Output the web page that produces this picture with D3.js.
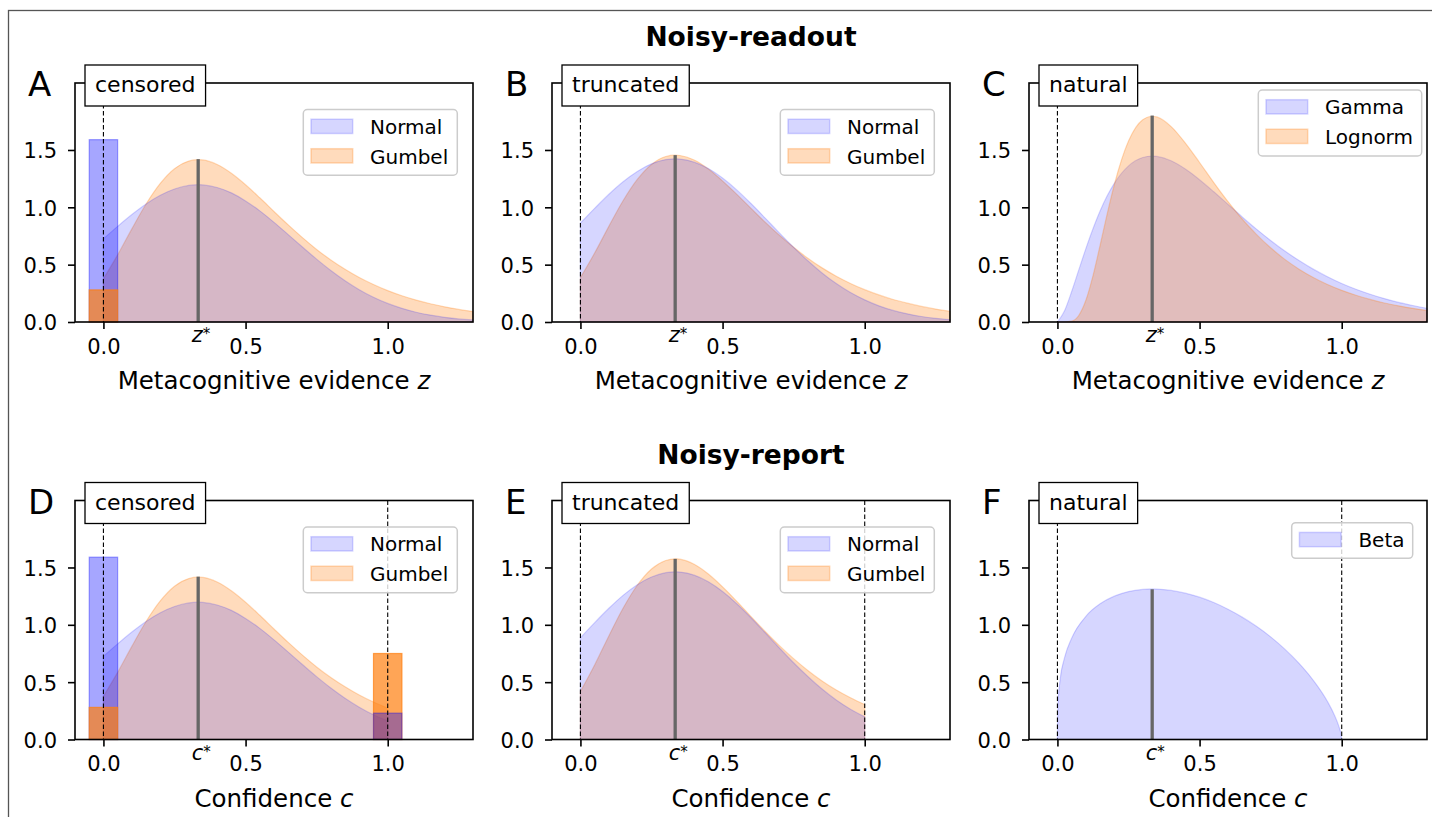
<!DOCTYPE html>
<html>
<head>
<meta charset="utf-8">
<script src="https://cdn.jsdelivr.net/npm/d3@7"></script>
<style>
  body { margin: 0; background: #fff; }
  svg { display: block; }
  text { font-family: 'DejaVu Sans', sans-serif; fill: #000; }
</style>
</head>
<body>
<script>
// ---- data ----
// shared evidence grid for the Normal / Gumbel panels
const zGrid = [0, 0.05, 0.1, 0.15, 0.2, 0.25, 0.3, 0.3333, 0.35, 0.4, 0.45, 0.5, 0.55, 0.6, 0.65,
  0.7, 0.75, 0.8, 0.85, 0.9, 0.95, 1.0, 1.05, 1.1, 1.15, 1.2, 1.25, 1.3];

// censored densities (A, D)
const normalCensored = [0.726, 0.834, 0.937, 1.029, 1.105, 1.160, 1.191, 1.197, 1.195, 1.173, 1.126, 1.056,
  0.969, 0.869, 0.762, 0.654, 0.548, 0.449, 0.360, 0.282, 0.216, 0.162, 0.119, 0.085, 0.060, 0.041, 0.027, 0.018];
const gumbelCensored = [0.377, 0.585, 0.812, 1.029, 1.209, 1.337, 1.403, 1.415, 1.413, 1.373, 1.297, 1.197,
  1.083, 0.964, 0.847, 0.736, 0.633, 0.541, 0.460, 0.388, 0.327, 0.274, 0.229, 0.191, 0.159, 0.132, 0.110, 0.091];

// truncated at 0 (B)
const normalTruncated = [0.863, 0.991, 1.114, 1.223, 1.313, 1.379, 1.416, 1.423, 1.421, 1.394, 1.338, 1.255,
  1.152, 1.033, 0.906, 0.777, 0.651, 0.534, 0.428, 0.335, 0.257, 0.193, 0.141, 0.101, 0.071, 0.048, 0.032, 0.021];
const gumbelTruncated = [0.387, 0.601, 0.834, 1.057, 1.243, 1.374, 1.443, 1.455, 1.452, 1.412, 1.334, 1.230,
  1.113, 0.991, 0.870, 0.756, 0.651, 0.556, 0.472, 0.399, 0.336, 0.282, 0.236, 0.196, 0.164, 0.136, 0.113, 0.094];

// truncated to [0, 1] (E)
const normalTruncated01 = [0.887, 1.019, 1.144, 1.257, 1.350, 1.417, 1.455, 1.462, 1.460, 1.433, 1.375, 1.290,
  1.184, 1.062, 0.931, 0.798, 0.669, 0.549, 0.440, 0.345, 0.264, 0.198];
const gumbelTruncated01 = [0.419, 0.650, 0.903, 1.144, 1.345, 1.487, 1.561, 1.575, 1.572, 1.528, 1.443, 1.331,
  1.205, 1.072, 0.942, 0.818, 0.705, 0.602, 0.511, 0.432, 0.364, 0.305];

// natural (C)
const naturalGrid = [0, 0.025, 0.05, 0.075, 0.1, 0.125, 0.15, 0.175, 0.2, 0.25, 0.3, 0.3333, 0.35, 0.4, 0.45,
  0.5, 0.55, 0.6, 0.65, 0.7, 0.75, 0.8, 0.85, 0.9, 0.95, 1.0, 1.05, 1.1, 1.15, 1.2, 1.25, 1.3];
const gammaDensity = [0, 0.098, 0.266, 0.454, 0.640, 0.813, 0.968, 1.100, 1.209, 1.361, 1.434, 1.447, 1.444,
  1.406, 1.334, 1.241, 1.136, 1.026, 0.916, 0.810, 0.711, 0.619, 0.536, 0.461, 0.395, 0.336, 0.286, 0.242,
  0.204, 0.171, 0.144, 0.120];
const lognormDensity = [0, 0.000, 0.007, 0.057, 0.189, 0.403, 0.667, 0.942, 1.197, 1.578, 1.764, 1.794, 1.788,
  1.704, 1.560, 1.391, 1.216, 1.050, 0.898, 0.764, 0.647, 0.546, 0.461, 0.388, 0.327, 0.276, 0.233, 0.197,
  0.166, 0.141, 0.119, 0.101];

// natural (F)
const betaGrid = [0, 0.002, 0.01, 0.025, 0.05, 0.1, 0.15, 0.2, 0.25, 0.3, 0.3333, 0.35, 0.4, 0.45, 0.5, 0.55,
  0.6, 0.65, 0.7, 0.75, 0.8, 0.85, 0.9, 0.95, 0.975, 0.99, 0.998, 1.0];
const betaDensity = [0, 0.312, 0.531, 0.713, 0.883, 1.074, 1.183, 1.250, 1.290, 1.309, 1.313, 1.312, 1.300,
  1.276, 1.241, 1.194, 1.136, 1.067, 0.987, 0.895, 0.788, 0.664, 0.516, 0.331, 0.210, 0.115, 0.039, 0];

// point masses of the censored panels, drawn as bars at 0 and 1
const massAt = [0, 1];
const normalMass = [1.59, 0.23];
const gumbelMass = [0.28, 0.75];

const starValue = 0.3333;                                 // z* / c*
const starHeights = [1.42, 1.455, 1.80, 1.42, 1.575, 1.31]; // A..F
const xTicks = [0, 0.5, 1.0];
const yTicks = [0, 0.5, 1.0, 1.5];

// ---- look ----
const fills = { blue: 'rgba(0,0,255,0.16)', orange: 'rgba(255,127,14,0.28)' };
const barFills = { blue: 'rgba(0,0,255,0.35)', orange: 'rgba(255,127,14,0.7)' };

const W = 398, H = 239;
const colLeft = [75, 552, 1029];
const rowTop = [83, 500.5];

const svg = d3.select('body').append('svg').attr('width', 1432).attr('height', 817);

// outer frame of the figure
svg.append('rect').attr('x', 8.5).attr('y', 10.5).attr('width', 1500).attr('height', 900)
  .attr('fill', 'none').attr('stroke', '#555').attr('stroke-width', 1.3);

const x = d3.scaleLinear().domain([-0.1, 1.3]).range([0, W]);
const y = d3.scaleLinear().domain([0, 2.084]).range([H, 0]);

const twoLegend = { dx: 228.3, dy: 26.5, w: 154, h: 65.7 };

const panels = [
  { letter: 'A', col: 0, row: 0, tag: 'censored', sym: 'z', xMax: 1.3, dashed: [0], bars: [0],
    series: [{ grid: zGrid, vals: gumbelCensored, color: 'orange' }, { grid: zGrid, vals: normalCensored, color: 'blue' }],
    legend: Object.assign({ items: [['Normal', 'blue'], ['Gumbel', 'orange']] }, twoLegend) },
  { letter: 'B', col: 1, row: 0, tag: 'truncated', sym: 'z', xMax: 1.3, dashed: [0], bars: [],
    series: [{ grid: zGrid, vals: gumbelTruncated, color: 'orange' }, { grid: zGrid, vals: normalTruncated, color: 'blue' }],
    legend: Object.assign({ items: [['Normal', 'blue'], ['Gumbel', 'orange']] }, twoLegend) },
  { letter: 'C', col: 2, row: 0, tag: 'natural', sym: 'z', xMax: 1.3, dashed: [0], bars: [],
    series: [{ grid: naturalGrid, vals: gammaDensity, color: 'blue' }, { grid: naturalGrid, vals: lognormDensity, color: 'orange' }],
    legend: { items: [['Gamma', 'blue'], ['Lognorm', 'orange']], dx: 229.3, dy: 7, w: 163.4, h: 66 } },
  { letter: 'D', col: 0, row: 1, tag: 'censored', sym: 'c', xMax: 1.0, dashed: [0, 1], bars: [0, 1],
    series: [{ grid: zGrid, vals: gumbelCensored, color: 'orange' }, { grid: zGrid, vals: normalCensored, color: 'blue' }],
    legend: Object.assign({ items: [['Normal', 'blue'], ['Gumbel', 'orange']] }, twoLegend) },
  { letter: 'E', col: 1, row: 1, tag: 'truncated', sym: 'c', xMax: 1.0, dashed: [0, 1], bars: [],
    series: [{ grid: zGrid, vals: gumbelTruncated01, color: 'orange' }, { grid: zGrid, vals: normalTruncated01, color: 'blue' }],
    legend: Object.assign({ items: [['Normal', 'blue'], ['Gumbel', 'orange']] }, twoLegend) },
  { letter: 'F', col: 2, row: 1, tag: 'natural', sym: 'c', xMax: 1.0, dashed: [0, 1], bars: [],
    series: [{ grid: betaGrid, vals: betaDensity, color: 'blue' }],
    legend: { items: [['Beta', 'blue']], dx: 262.7, dy: 22.2, w: 121, h: 35.6 } }
];

const area = d3.area()
  .x(d => x(d[0]))
  .y0(y(0))
  .y1(d => y(d[1]))
  .curve(d3.curveMonotoneX);

panels.forEach((p, pi) => {
  const g = svg.append('g').attr('transform', `translate(${colLeft[p.col]},${rowTop[p.row]})`);

  // density fills
  p.series.forEach(s => {
    const pts = d3.zip(s.grid, s.vals).filter(d => d[0] <= p.xMax + 1e-9);
    g.append('path')
      .datum(pts)
      .attr('d', area)
      .attr('fill', fills[s.color])
      .attr('stroke', fills[s.color])
      .attr('stroke-width', 1.2)
      .attr('stroke-linejoin', 'round');
  });

  // point-mass bars, taller one first
  p.bars.forEach(i => {
    const pair = [{ v: normalMass[i], c: 'blue' }, { v: gumbelMass[i], c: 'orange' }]
      .sort((a, b) => b.v - a.v);
    pair.forEach(b => {
      g.append('rect')
        .attr('x', x(massAt[i] - 0.05))
        .attr('width', x(0.05) - x(-0.05))
        .attr('y', y(b.v))
        .attr('height', y(0) - y(b.v))
        .attr('fill', barFills[b.c])
        .attr('stroke', barFills[b.c])
        .attr('stroke-width', 1.2);
    });
  });

  // bounds
  p.dashed.forEach(v => {
    g.append('line')
      .attr('x1', x(v)).attr('x2', x(v))
      .attr('y1', 0).attr('y2', H)
      .attr('stroke', '#000')
      .attr('stroke-width', 1.1)
      .attr('stroke-dasharray', '4.5,2.5');
  });

  // z* / c* line
  g.append('line')
    .attr('x1', x(starValue)).attr('x2', x(starValue))
    .attr('y1', y(0)).attr('y2', y(starHeights[pi]))
    .attr('stroke', '#666')
    .attr('stroke-width', 3.3);

  // axes
  const xAxis = g.append('g').attr('transform', `translate(0,${H})`)
    .call(d3.axisBottom(x).tickValues(xTicks).tickFormat(d3.format('.1f')).tickSize(7).tickPadding(10));
  const yAxis = g.append('g')
    .call(d3.axisLeft(y).tickValues(yTicks).tickFormat(d3.format('.1f')).tickSize(7).tickPadding(11));
  [xAxis, yAxis].forEach(a => {
    a.select('.domain').remove();
    a.selectAll('line').attr('stroke', '#000').attr('stroke-width', 1.6);
    a.selectAll('text').attr('font-size', 21).attr('font-family', 'DejaVu Sans').attr('fill', '#000');
  });
  yAxis.selectAll('text').attr('dy', '0.38em');

  // spines
  g.append('rect').attr('width', W).attr('height', H)
    .attr('fill', 'none').attr('stroke', '#000').attr('stroke-width', 1.6);

  // z* label under the axis
  const st = g.append('text').attr('x', x(starValue) - 6.5).attr('y', H + 20).attr('font-size', 21);
  st.append('tspan').attr('font-style', 'italic').text(p.sym);
  st.append('tspan').attr('font-size', 15).attr('dy', -3).text('*');

  // axis label
  const xl = g.append('text').attr('x', W / 2).attr('y', H + 67).attr('text-anchor', 'middle').attr('font-size', 24.5);
  xl.append('tspan').text(p.sym === 'z' ? 'Metacognitive evidence ' : 'Confidence ');
  xl.append('tspan').attr('font-style', 'italic').text(p.sym);

  // tag box
  const tagBox = g.append('rect').attr('x', 10).attr('y', -18).attr('height', 41)
    .attr('fill', '#fff').attr('stroke', '#000').attr('stroke-width', 1.3);
  const tagText = g.append('text').attr('x', 20).attr('y', 9).attr('font-size', 22).text(p.tag);
  tagBox.attr('width', tagText.node().getComputedTextLength() + 20);

  // legend
  const lg = g.append('g').attr('transform', `translate(${p.legend.dx},${p.legend.dy})`);
  lg.append('rect').attr('width', p.legend.w).attr('height', p.legend.h).attr('rx', 4)
    .attr('fill', 'rgba(255,255,255,0.8)').attr('stroke', '#cccccc').attr('stroke-width', 1.5);
  p.legend.items.forEach(([label, c], i) => {
    lg.append('rect')
      .attr('x', 7.7).attr('y', 9.7 + i * 29.5)
      .attr('width', 41.7).attr('height', 14.3)
      .attr('fill', fills[c]).attr('stroke', fills[c]).attr('stroke-width', 1.5);
    lg.append('text').attr('x', 66.7).attr('y', 24 + i * 30.3).attr('font-size', 20).text(label);
  });

  // panel letter
  g.append('text').attr('x', -47).attr('y', 13).attr('font-size', 34).text(p.letter);
});

// row titles
svg.append('text').attr('x', 751).attr('y', 46).attr('text-anchor', 'middle')
  .attr('font-size', 26.5).attr('font-weight', 'bold').text('Noisy-readout');
svg.append('text').attr('x', 751).attr('y', 464).attr('text-anchor', 'middle')
  .attr('font-size', 26.5).attr('font-weight', 'bold').text('Noisy-report');
</script>
</body>
</html>
